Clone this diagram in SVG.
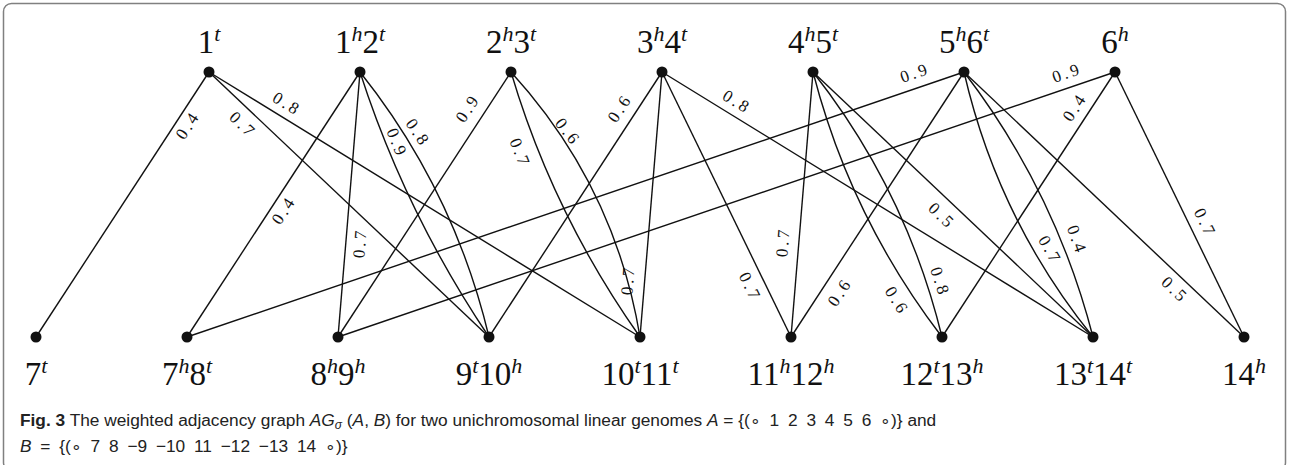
<svg xmlns="http://www.w3.org/2000/svg" width="1289" height="465" viewBox="0 0 1289 465">
<style>
.e{fill:none;stroke:#111;stroke-width:1.4}
.n{fill:#111}
.lb{font-family:"Liberation Serif",serif;font-size:33px;fill:#111;text-anchor:middle}
.sp{font-size:22px;font-style:italic}
.w{font-family:"Liberation Serif",serif;font-size:17px;fill:#111;text-anchor:middle;dominant-baseline:central;letter-spacing:3px}
.cap{font-family:"Liberation Sans",sans-serif;font-size:17.3px;fill:#222}
.ws{word-spacing:4px}
</style>
<rect x="3.5" y="3.5" width="1282" height="467" rx="8" fill="#fff" stroke="#808080" stroke-width="1.5"/>
<g id="connectors">
<path class="e" d="M209,72L36,337"/>
<path class="e" d="M209,72L489,337"/>
<path class="e" d="M209,72L640,337"/>
<path class="e" d="M360,72L187,337"/>
<path class="e" d="M360,72L338,337"/>
<path class="e" d="M360,72Q405,212 489,337"/>
<path class="e" d="M360,72Q454,190 489,337"/>
<path class="e" d="M511,72L338,337"/>
<path class="e" d="M511,72Q553,214 640,337"/>
<path class="e" d="M511,72Q615,186 640,337"/>
<path class="e" d="M662,72L489,337"/>
<path class="e" d="M662,72L640,337"/>
<path class="e" d="M662,72L791,337"/>
<path class="e" d="M662,72L1093,337"/>
<path class="e" d="M813,72L791,337"/>
<path class="e" d="M813,72Q850.5,217.6 942,337"/>
<path class="e" d="M813,72Q906.3,190.5 942,337"/>
<path class="e" d="M813,72L1093,337"/>
<path class="e" d="M964,72L187,337"/>
<path class="e" d="M964,72L791,337"/>
<path class="e" d="M964,72Q997.9,219.4 1093,337"/>
<path class="e" d="M964,72Q1055.5,191.4 1093,337"/>
<path class="e" d="M964,72L1244,337"/>
<path class="e" d="M1115,72L338,337"/>
<path class="e" d="M1115,72L942,337"/>
<path class="e" d="M1115,72L1244,337"/>
</g>
<g id="weights">
<text class="w" transform="translate(188,125) rotate(-56.9)">0.4</text>
<text class="w" transform="translate(243,125) rotate(43.4)">0.7</text>
<text class="w" transform="translate(287,104) rotate(31.6)">0.8</text>
<text class="w" transform="translate(284,210) rotate(-56.9)">0.4</text>
<text class="w" transform="translate(360,243) rotate(-85.3)">0.7</text>
<text class="w" transform="translate(397,143) rotate(68)">0.9</text>
<text class="w" transform="translate(418,133) rotate(56)">0.8</text>
<text class="w" transform="translate(468,108) rotate(-56.9)">0.9</text>
<text class="w" transform="translate(520,153) rotate(68)">0.7</text>
<text class="w" transform="translate(568,132) rotate(52)">0.6</text>
<text class="w" transform="translate(620,108) rotate(-56.9)">0.6</text>
<text class="w" transform="translate(737,102) rotate(31.6)">0.8</text>
<text class="w" transform="translate(628,280) rotate(-85.3)">0.7</text>
<text class="w" transform="translate(750,287) rotate(64)">0.7</text>
<text class="w" transform="translate(783,242) rotate(-85.3)">0.7</text>
<text class="w" transform="translate(840,292) rotate(-56.9)">0.6</text>
<text class="w" transform="translate(897,301) rotate(58)">0.6</text>
<text class="w" transform="translate(940,282) rotate(72)">0.8</text>
<text class="w" transform="translate(942,216) rotate(43.4)">0.5</text>
<text class="w" transform="translate(1050,250) rotate(60)">0.7</text>
<text class="w" transform="translate(1077,240) rotate(70)">0.4</text>
<text class="w" transform="translate(1175,290) rotate(43.4)">0.5</text>
<text class="w" transform="translate(1205,223) rotate(64)">0.7</text>
<text class="w" transform="translate(1075,107) rotate(-56.9)">0.4</text>
<text class="w" transform="translate(1067,73) rotate(-18.8)">0.9</text>
<text class="w" transform="translate(915,73) rotate(-18.8)">0.9</text>
</g>
<g id="n1t"><circle class="n" cx="209" cy="72" r="5.5"/><text class="lb" x="209" y="53">1<tspan class="sp" dy="-12">t</tspan></text></g>
<g id="n1h2t"><circle class="n" cx="360" cy="72" r="5.5"/><text class="lb" x="360" y="53">1<tspan class="sp" dy="-12">h</tspan><tspan dy="12">2</tspan><tspan class="sp" dy="-12">t</tspan></text></g>
<g id="n2h3t"><circle class="n" cx="511" cy="72" r="5.5"/><text class="lb" x="511" y="53">2<tspan class="sp" dy="-12">h</tspan><tspan dy="12">3</tspan><tspan class="sp" dy="-12">t</tspan></text></g>
<g id="n3h4t"><circle class="n" cx="662" cy="72" r="5.5"/><text class="lb" x="662" y="53">3<tspan class="sp" dy="-12">h</tspan><tspan dy="12">4</tspan><tspan class="sp" dy="-12">t</tspan></text></g>
<g id="n4h5t"><circle class="n" cx="813" cy="72" r="5.5"/><text class="lb" x="813" y="53">4<tspan class="sp" dy="-12">h</tspan><tspan dy="12">5</tspan><tspan class="sp" dy="-12">t</tspan></text></g>
<g id="n5h6t"><circle class="n" cx="964" cy="72" r="5.5"/><text class="lb" x="964" y="53">5<tspan class="sp" dy="-12">h</tspan><tspan dy="12">6</tspan><tspan class="sp" dy="-12">t</tspan></text></g>
<g id="n6h"><circle class="n" cx="1115" cy="72" r="5.5"/><text class="lb" x="1115" y="53">6<tspan class="sp" dy="-12">h</tspan></text></g>
<g id="n7t"><circle class="n" cx="36" cy="337" r="5.5"/><text class="lb" x="36" y="385">7<tspan class="sp" dy="-12">t</tspan></text></g>
<g id="n7h8t"><circle class="n" cx="187" cy="337" r="5.5"/><text class="lb" x="187" y="385">7<tspan class="sp" dy="-12">h</tspan><tspan dy="12">8</tspan><tspan class="sp" dy="-12">t</tspan></text></g>
<g id="n8h9h"><circle class="n" cx="338" cy="337" r="5.5"/><text class="lb" x="338" y="385">8<tspan class="sp" dy="-12">h</tspan><tspan dy="12">9</tspan><tspan class="sp" dy="-12">h</tspan></text></g>
<g id="n9t10h"><circle class="n" cx="489" cy="337" r="5.5"/><text class="lb" x="489" y="385">9<tspan class="sp" dy="-12">t</tspan><tspan dy="12">10</tspan><tspan class="sp" dy="-12">h</tspan></text></g>
<g id="n10t11t"><circle class="n" cx="640" cy="337" r="5.5"/><text class="lb" x="640" y="385">10<tspan class="sp" dy="-12">t</tspan><tspan dy="12">11</tspan><tspan class="sp" dy="-12">t</tspan></text></g>
<g id="n11h12h"><circle class="n" cx="791" cy="337" r="5.5"/><text class="lb" x="791" y="385">11<tspan class="sp" dy="-12">h</tspan><tspan dy="12">12</tspan><tspan class="sp" dy="-12">h</tspan></text></g>
<g id="n12t13h"><circle class="n" cx="942" cy="337" r="5.5"/><text class="lb" x="942" y="385">12<tspan class="sp" dy="-12">t</tspan><tspan dy="12">13</tspan><tspan class="sp" dy="-12">h</tspan></text></g>
<g id="n13t14t"><circle class="n" cx="1093" cy="337" r="5.5"/><text class="lb" x="1093" y="385">13<tspan class="sp" dy="-12">t</tspan><tspan dy="12">14</tspan><tspan class="sp" dy="-12">t</tspan></text></g>
<g id="n14h"><circle class="n" cx="1244" cy="337" r="5.5"/><text class="lb" x="1244" y="385">14<tspan class="sp" dy="-12">h</tspan></text></g>
<g id="caption">
<text class="cap" x="20" y="426"><tspan font-weight="bold">Fig. 3</tspan> The weighted adjacency graph <tspan font-style="italic">AG</tspan><tspan font-style="italic" font-size="12" dy="3">σ</tspan><tspan dy="-3"> (</tspan><tspan font-style="italic">A</tspan>, <tspan font-style="italic">B</tspan>) for two unichromosomal linear genomes <tspan font-style="italic">A</tspan> = <tspan class="ws">{(∘ 1 2 3 4 5 6 ∘)}</tspan> and</text>
<text class="cap ws" x="20" y="452"><tspan font-style="italic">B</tspan> = {(∘ 7 8 −9 −10 11 −12 −13 14 ∘)}</text>
</g>
</svg>
